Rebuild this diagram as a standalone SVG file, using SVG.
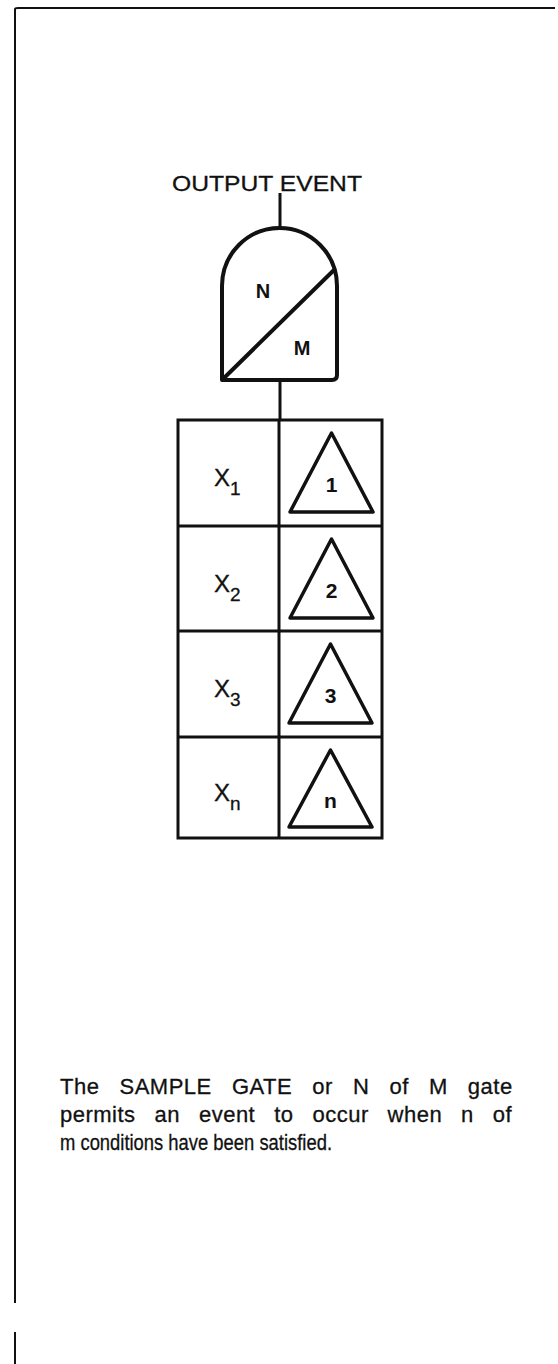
<svg xmlns="http://www.w3.org/2000/svg" width="558" height="1364" viewBox="0 0 558 1364">
<style>
.bg{fill:#ffffff}
.frame{fill:none;stroke:#111;stroke-width:2}
.thick{fill:none;stroke:#111;stroke-width:4;stroke-linejoin:round;stroke-linecap:round}
.cell{fill:none;stroke:#111;stroke-width:3}
.tri{fill:none;stroke:#111;stroke-width:3.5;stroke-linejoin:round}
.conn{fill:none;stroke:#111;stroke-width:3}
.lbl{font-family:"Liberation Sans",Arial,sans-serif;fill:#111}
.heavy{stroke:#111;stroke-width:0.3}
.b{font-weight:bold}
</style>
<rect class="bg" x="0" y="0" width="558" height="1364"/>
<g id="frame">
<path class="frame" d="M15,1303 L15,9 Q15,8 18,8 L555,8"/>
<path class="frame" d="M15,1332 L15,1364"/>
</g>
<g id="connectors">
<line class="conn" x1="280" y1="193" x2="280" y2="229"/>
<line class="conn" x1="280" y1="380" x2="280" y2="420"/>
</g>
<g id="output-event">
<text class="lbl heavy" x="267" y="191" font-size="22" text-anchor="middle" textLength="190" lengthAdjust="spacingAndGlyphs">OUTPUT EVENT</text>
</g>
<g id="gate">
<path class="thick" d="M222,378 L222,286 A57.5,58 0 0 1 337,286 L337,375 Q337,380 332,380 L222,380 Z"/>
<line class="thick" x1="223" y1="379" x2="334" y2="270"/>
<text class="lbl b" x="263" y="298" font-size="20" text-anchor="middle">N</text>
<text class="lbl b" x="302" y="355" font-size="20" text-anchor="middle">M</text>
</g>
<g id="table">
<rect class="cell" x="178" y="420" width="204" height="418"/>
<line class="cell" x1="279" y1="420" x2="279" y2="838"/>
<line class="cell" x1="178" y1="526" x2="382" y2="526"/>
<line class="cell" x1="178" y1="631" x2="382" y2="631"/>
<line class="cell" x1="178" y1="737" x2="382" y2="737"/>
</g>
<g id="row1">
<text class="lbl heavy" x="214" y="486" font-size="24">X<tspan font-size="19" dy="9">1</tspan></text>
<path class="tri" d="M331.5,433 L373,512 L290,512 Z"/>
<text class="lbl b" x="331.5" y="492" font-size="21" text-anchor="middle">1</text>
</g>
<g id="row2">
<text class="lbl heavy" x="214" y="592" font-size="24">X<tspan font-size="19" dy="9">2</tspan></text>
<path class="tri" d="M331.5,539 L373,618 L290,618 Z"/>
<text class="lbl b" x="331.5" y="598" font-size="21" text-anchor="middle">2</text>
</g>
<g id="row3">
<text class="lbl heavy" x="214" y="697" font-size="24">X<tspan font-size="19" dy="9">3</tspan></text>
<path class="tri" d="M330.5,644 L372,723 L289,723 Z"/>
<text class="lbl b" x="330.5" y="703" font-size="21" text-anchor="middle">3</text>
</g>
<g id="rown">
<text class="lbl heavy" x="214" y="801" font-size="24">X<tspan font-size="19" dy="9">n</tspan></text>
<path class="tri" d="M330.5,750 L372,827 L289,827 Z"/>
<text class="lbl b" x="330.5" y="808" font-size="21" text-anchor="middle">n</text>
</g>
<g id="caption">
<text class="lbl heavy" x="60" y="1094" font-size="22" letter-spacing="0.5" word-spacing="13.5">The SAMPLE GATE or N of M gate</text>
<text class="lbl heavy" x="60" y="1122" font-size="22" letter-spacing="0.5" word-spacing="12.3">permits an event to occur when n of</text>
<text class="lbl heavy" x="60" y="1150" font-size="22" textLength="272" lengthAdjust="spacingAndGlyphs">m conditions have been satisfied.</text>
</g>
</svg>
